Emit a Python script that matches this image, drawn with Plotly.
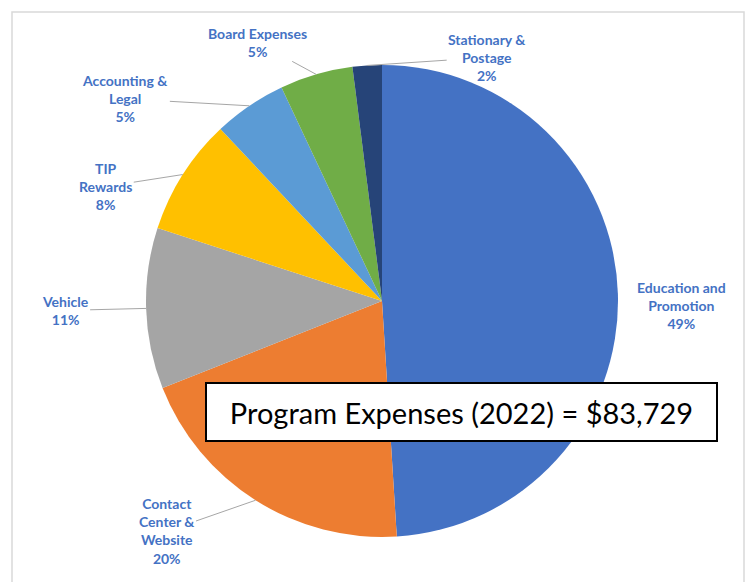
import math
import plotly.graph_objects as go

# ---- data ----
categories = ["Education and<br>Promotion", "Contact<br>Center &<br>Website", "Vehicle",
              "TIP<br>Rewards", "Accounting &<br>Legal", "Board Expenses", "Stationary &<br>Postage"]
shares = [49, 20, 11, 8, 5, 5, 2]
colors = ["#4472C4", "#ED7D31", "#A5A5A5", "#FFC000", "#5B9BD5", "#70AD47", "#264478"]
total_text = "Program Expenses (2022) = $83,729"

# ---- layout constants (window pixels) ----
VW, VH = 754, 582
OFF = 8                          # page body margin
W, H = VW - 2 * OFF, VH - OFF    # figure size
CX, CY, R = 382, 301, 236


def px2paper(X, Y):
    return (X - OFF) / W, 1 - (Y - OFF) / H


# label offsets (pixels) from the slice edge point to the label centre
label_offsets = [(64, 12), (-89, 31), (-81, 2), (-77, 12), (-124, -7), (-59, -32), (120, -8)]
label_font = dict(family="Lato", size=14, color="#4472C4")

fig = go.Figure()
x0, y1 = px2paper(CX - R, CY - R)
x1, y0 = px2paper(CX + R, CY + R)
fig.add_trace(go.Pie(
    labels=categories, values=shares, sort=False, direction="clockwise", rotation=0,
    marker=dict(colors=colors, line=dict(width=0)),
    textinfo="none", hoverinfo="skip", showlegend=False,
    domain=dict(x=[x0, x1], y=[y0, y1]),
))

tot = sum(shares)
cum = 0
annotations = []
for i, (lab, v) in enumerate(zip(categories, shares)):
    mid = (cum + v / 2) / tot * 2 * math.pi
    cum += v
    px = CX + R * math.sin(mid)
    py = CY - R * math.cos(mid)
    pct = round(v / tot * 100)
    text = f"<b>{lab}<br>{pct}%</b>"
    ax, ay = label_offsets[i]
    if i == 0:
        lx, ly = px2paper(px + ax, py + ay)
        annotations.append(dict(x=lx, y=ly, xref="paper", yref="paper",
                                xanchor="center", yanchor="middle",
                                text=text, showarrow=False, align="center", font=label_font))
    else:
        tx, ty = px2paper(px, py)
        annotations.append(dict(x=tx, y=ty, xref="paper", yref="paper",
                                xanchor="center", yanchor="middle",
                                text=text, showarrow=True, arrowhead=0, arrowwidth=1,
                                arrowcolor="#A6A6A6", ax=ax, ay=ay, align="center",
                                font=label_font))

bx, by = px2paper(461.5, 412)
annotations.append(dict(x=bx, y=by, xref="paper", yref="paper", xanchor="center", yanchor="middle",
                        text=total_text, showarrow=False, width=509, height=56,
                        bgcolor="white", bordercolor="black", borderwidth=2, borderpad=0,
                        font=dict(family="Lato", size=29, color="black")))

fx0, fy1 = px2paper(12, 12)
fx1, _ = px2paper(744, 12)
fig.update_layout(
    width=W, height=H, margin=dict(l=0, r=0, t=0, b=0),
    paper_bgcolor="white", plot_bgcolor="white",
    annotations=annotations,
    shapes=[dict(type="rect", xref="paper", yref="paper", x0=fx0, x1=fx1,
                 y0=-0.05, y1=fy1, line=dict(color="#D9D9D9", width=1.5))],
    hovermode=False,
)
fig.write_html("out.html")
